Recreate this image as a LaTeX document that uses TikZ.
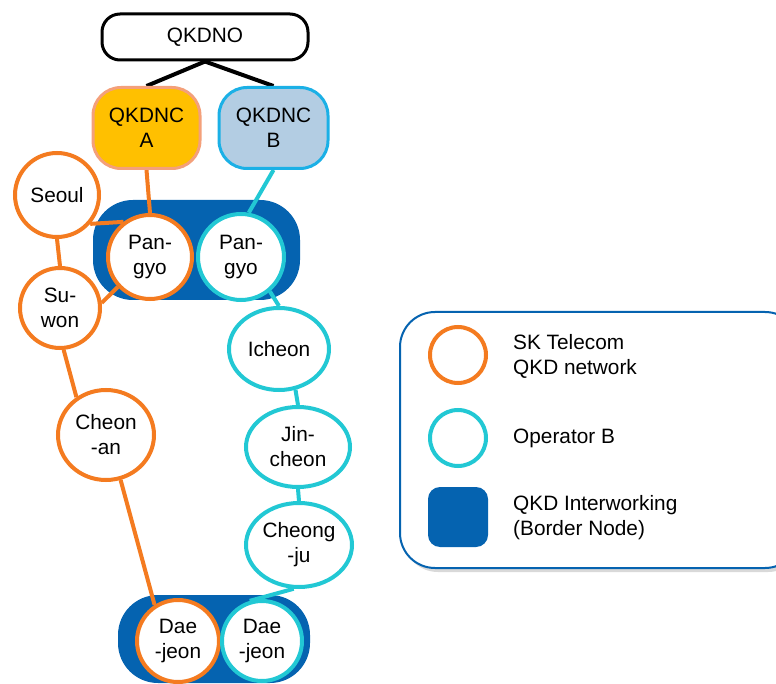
\documentclass[tikz,border=0pt]{standalone}
\usepackage{fontspec}
\setmainfont{Liberation Sans}
\usetikzlibrary{shapes.geometric}
\definecolor{skorange}{HTML}{F47B20}
\definecolor{opcyan}{HTML}{22C8D4}
\definecolor{bordblue}{HTML}{0563B0}
\definecolor{ncAfill}{HTML}{FFC000}
\definecolor{ncAline}{HTML}{F4A07A}
\definecolor{ncBfill}{HTML}{B3CDE3}
\definecolor{ncBline}{HTML}{1BB0E6}
\pgfdeclarelayer{paper}
\pgfdeclarelayer{bg}
\pgfdeclarelayer{links}
\pgfsetlayers{paper,bg,links,main}
\begin{document}
\begin{tikzpicture}[x=1pt,y=-1pt,
  lbl/.style={font=\fontsize{20.8}{25}\selectfont, align=center, text=black},
  skcirc/.style={lbl, circle, draw=skorange, line width=4pt, fill=white, inner sep=0pt, minimum size=#1},
  opcirc/.style={lbl, circle, draw=opcyan, line width=4pt, fill=white, inner sep=0pt, minimum size=#1},
  skell/.style={lbl, ellipse, draw=skorange, line width=4pt, fill=white, inner sep=0pt},
  opell/.style={lbl, ellipse, draw=opcyan, line width=4pt, fill=white, inner sep=0pt},
  bordbox/.style={rectangle, fill=bordblue, rounded corners=40pt},
  sklink/.style={draw=skorange, line width=4pt},
  oplink/.style={draw=opcyan, line width=4pt},
  ctrllink/.style={draw=black, line width=4pt},
  legtxt/.style={font=\fontsize{20.8}{25}\selectfont, align=left, anchor=west, inner sep=0pt}
]
\clip (0,0) rectangle (776,684);
\begin{pgfonlayer}{paper}
\fill[white] (0,0) rectangle (776,684);
\end{pgfonlayer}

% controller hierarchy
\node[lbl, draw=black, line width=3pt, rounded corners=18pt, fill=white,
      minimum width=206pt, minimum height=46pt] (qkdno) at (205,37) {QKDNO};
\node[lbl, draw=ncAline, fill=ncAfill, line width=3pt, rounded corners=28pt,
      minimum width=107pt, minimum height=81pt] (ncA) at (146.5,128) {QKDNC\\A};
\node[lbl, draw=ncBline, fill=ncBfill, line width=3pt, rounded corners=28pt,
      minimum width=109pt, minimum height=81pt] (ncB) at (273.5,128) {QKDNC\\B};

% border nodes
\begin{pgfonlayer}{bg}
\node[bordbox, minimum width=207pt, minimum height=100pt] (bnTop) at (196.5,250) {};
\node[bordbox, minimum width=192pt, minimum height=88pt] (bnBot) at (214,639) {};
\end{pgfonlayer}

% SK Telecom network
\node[skcirc=84pt] (seoul) at (57,195) {Seoul};
\node[skcirc=80pt] (suwon) at (60,308) {Su-\\won};
\node[skcirc=84pt] (pgA) at (150,257) {Pan-\\gyo};
\node[skell, minimum width=96pt, minimum height=90pt] (cheonan) at (106,435) {Cheon\\-an};
\node[skcirc=82pt] (djA) at (178,641) {Dae\\-jeon};

% Operator B network
\node[opcirc=86pt] (pgB) at (241,257) {Pan-\\gyo};
\node[opell, minimum width=100pt, minimum height=82pt] (icheon) at (279,349) {Icheon};
\node[opell, minimum width=104pt, minimum height=80pt] (jincheon) at (298,447) {Jin-\\cheon};
\node[opell, minimum width=106pt, minimum height=84pt] (cheongju) at (299,545) {Cheong\\-ju};
\node[opcirc=80pt] (djB) at (262,641) {Dae\\-jeon};

% links
\begin{pgfonlayer}{links}
\draw[ctrllink] (qkdno.south) -- (ncA.north);
\draw[ctrllink] (qkdno.south) -- (ncB.north);
\draw[sklink] (ncA.south) -- (pgA.north);
\draw[sklink] (seoul.-41) -- (pgA.127);
\draw[sklink] (seoul.south) -- (suwon.north);
\draw[sklink] (suwon.7) -- (pgA.223);
\draw[sklink] (suwon.-85) -- (cheonan.128);
\draw[sklink] (cheonan.-72) -- (djA.123);
\draw[oplink] (ncB.south) -- (pgB.80);
\draw[oplink] (pgB.-50) -- (icheon.north);
\draw[oplink] (icheon.-68) -- (jincheon.north);
\draw[oplink] (jincheon.south) -- (cheongju.north);
\draw[oplink] (cheongju.-97) -- (djB.107);
\end{pgfonlayer}

% legend
\fill[black!15, rounded corners=35pt] (403,316) rectangle (803,572);
\node[draw=bordblue, fill=white, line width=2pt, rounded corners=35pt,
      minimum width=400pt, minimum height=256pt] (legend) at (600,440) {};
\node[circle, draw=skorange, line width=4pt, minimum size=56pt, inner sep=0pt] (legSK) at (458,355) {};
\node[circle, draw=opcyan, line width=4pt, minimum size=56pt, inner sep=0pt] (legOP) at (458,438) {};
\node[rectangle, fill=bordblue, rounded corners=12pt, minimum size=60pt] (legBN) at (458,517) {};
\node[legtxt] (legSKt) at (513,356) {SK Telecom\\QKD network};
\node[legtxt] (legOPt) at (513,438) {Operator B};
\node[legtxt] (legBNt) at (513,518) {QKD Interworking\\(Border Node)};
\end{tikzpicture}
\end{document}
